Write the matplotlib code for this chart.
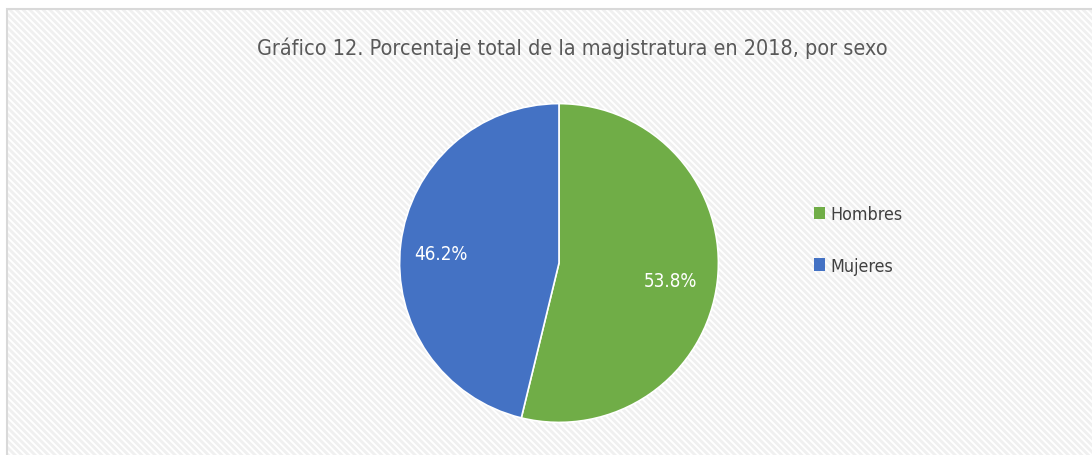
import matplotlib
matplotlib.use("Agg")
import matplotlib.pyplot as plt
from matplotlib.patches import Rectangle

labels = ["Hombres", "Mujeres"]
values = [53.8, 46.2]
colors = ["#70AD47", "#4472C4"]
title = "Gráfico 12. Porcentaje total de la magistratura en 2018, por sexo"

plt.rcParams['font.family'] = ['DejaVu Sans']
plt.rcParams['font.stretch'] = 'condensed'
plt.rcParams['hatch.linewidth'] = 2.0

W, H = 1092, 456
fig = plt.figure(figsize=(W / 100, H / 100), dpi=100)

# chart area: faint diagonal stripes + thin grey border
stripes = Rectangle((7 / W, 0), 1.2, 1 - 10 / H, transform=fig.transFigure,
                    facecolor='white', edgecolor='#f0f0f0', linewidth=0,
                    hatch='\\\\\\\\\\', zorder=-10)
border = Rectangle((7 / W, -0.1), 1.2, 1.1 - 10 / H, transform=fig.transFigure,
                   facecolor='none', edgecolor='#d9d9d9', linewidth=1.5, zorder=-9)
fig.patches.extend([stripes, border])

# pie axes: center (559, 264), radius ~160 px
r = 161
cx, cy = 559, 264
ax = fig.add_axes([(cx - r) / W, (H - cy - r) / H, 2 * r / W, 2 * r / H])
ax.patch.set_visible(False)
wedges, texts = ax.pie(values, colors=colors, startangle=90, counterclock=False,
                       wedgeprops=dict(edgecolor='white', linewidth=1.2))
ax.set_aspect('auto')
ax.set_xlim(-1.01, 1.01)
ax.set_ylim(-1.01, 1.01)

# percentage labels
ax.text((672 - cx) / r, (cy - 282) / r, "53.8%", color='white', fontsize=13.5,
        ha='center', va='center')
ax.text((440 - cx) / r, (cy - 254) / r, "46.2%", color='white', fontsize=13.5,
        ha='center', va='center')

fig.text(572 / W, 1 - 48 / H, title, ha='center', va='center',
         fontsize=15.5, color='#595959')

leg = fig.legend(wedges, labels, loc='center left',
                 bbox_to_anchor=(798 / W, 1 - 241 / H), frameon=False,
                 fontsize=12.8, handlelength=0.6, handleheight=0.7,
                 handletextpad=0.3, labelspacing=1.9, labelcolor='#404040')
for h in leg.legend_handles:
    h.set_edgecolor('none')

fig.savefig("out.png", dpi=100)
